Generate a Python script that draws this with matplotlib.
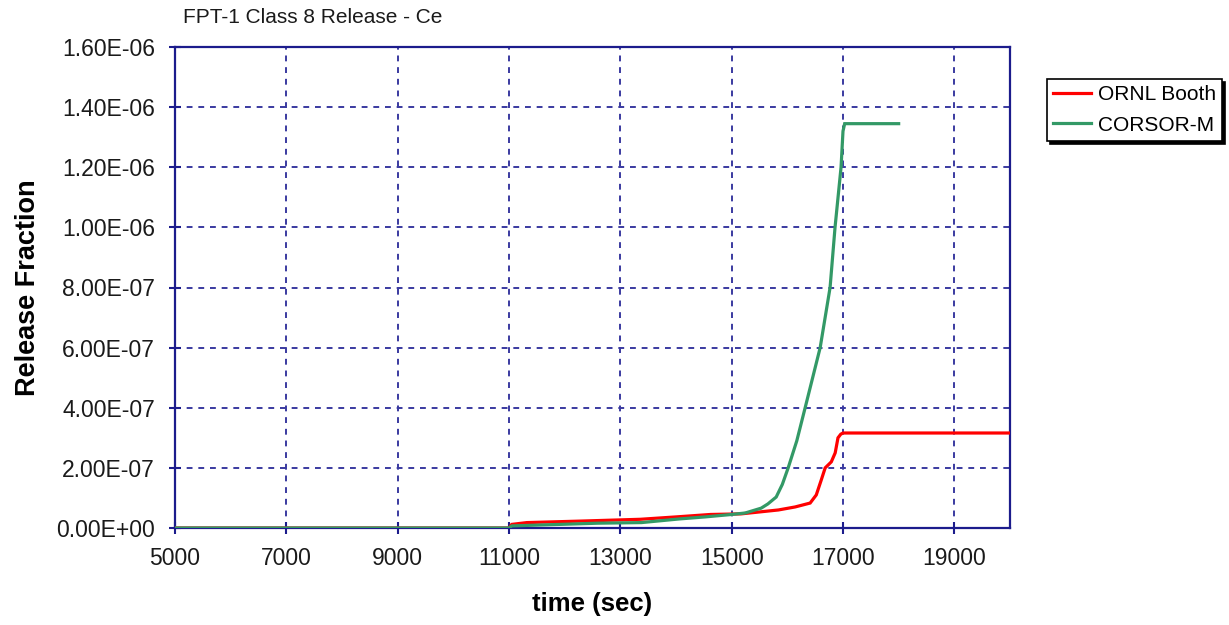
import matplotlib
matplotlib.use("Agg")
import matplotlib.pyplot as plt
from matplotlib.ticker import FuncFormatter, MultipleLocator

# Release history, time in seconds
ornl_time = [5000, 11000, 11050, 11320, 12290, 13360, 14010, 14620, 15170,
             15840, 16140, 16410, 16520, 16610, 16680, 16790, 16860, 16910,
             16960, 17000, 20000]
ornl_frac = [0, 0, 1.2e-8, 1.8e-8, 2.3e-8, 2.9e-8, 3.7e-8, 4.5e-8, 4.7e-8,
             6.0e-8, 7.0e-8, 8.3e-8, 1.1e-7, 1.6e-7, 2.0e-7, 2.2e-7, 2.5e-7,
             3.0e-7, 3.12e-7, 3.16e-7, 3.16e-7]

corsor_time = [5000, 11000, 11050, 12600, 13380, 14050, 14530, 15000, 15245,
               15530, 15650, 15800, 15910, 16015, 16170, 16320, 16590, 16768,
               16857, 16965, 17000, 17030, 18000]
corsor_frac = [0, 0, 0.7e-8, 1.6e-8, 1.8e-8, 3.0e-8, 3.7e-8, 4.5e-8, 5.0e-8,
               6.6e-8, 8.0e-8, 1.03e-7, 1.45e-7, 2.0e-7, 2.9e-7, 4.0e-7,
               6.0e-7, 8.0e-7, 1.0e-6, 1.2e-6, 1.32e-6, 1.345e-6, 1.345e-6]

x_ticks = [5000, 7000, 9000, 11000, 13000, 15000, 17000, 19000]

NAVY = "#1c1c8c"
GRID = "#3a3aa0"

plt.rcParams["font.family"] = ["Liberation Sans", "DejaVu Sans"]

fig = plt.figure(figsize=(12.29, 6.25), dpi=100)
ax = fig.add_axes([0.1424, 0.1552, 0.6794, 0.7696])

ax.plot(ornl_time, ornl_frac, color="#ff0000", lw=2.3, label="ORNL Booth",
        solid_joinstyle="miter", zorder=3)
ax.plot(corsor_time, corsor_frac, color="#339966", lw=2.3, label="CORSOR-M",
        solid_joinstyle="miter", zorder=3)

ax.set_xlim(5000, 20000)
ax.set_ylim(0, 1.6e-6)
ax.set_xticks(x_ticks)
ax.yaxis.set_major_locator(MultipleLocator(2e-7))
ax.yaxis.set_major_formatter(FuncFormatter(lambda v, p: "%.2E" % v))

ax.grid(True, color=GRID, lw=1.4, ls=(0, (3, 3)))
for s in ax.spines.values():
    s.set_color(NAVY)
    s.set_linewidth(1.6)

ax.tick_params(direction="inout", length=9, width=1.5, color=NAVY,
               labelsize=16.5, labelcolor="#1a1a1a")
ax.tick_params(axis="x", pad=9)
ax.tick_params(axis="y", pad=10)

ax.set_title("FPT-1 Class 8 Release - Ce", fontsize=15, color="#1a1a1a",
             loc="left", x=0.01, pad=17)
ax.set_xlabel("time (sec)", fontsize=18.5, fontweight="bold", labelpad=16)
ax.set_ylabel("Release Fraction", fontsize=19.5, fontweight="bold", labelpad=11)

leg = ax.legend(loc="upper left", bbox_to_anchor=(1.0443, 0.9335), fontsize=15,
                frameon=True, fancybox=False, edgecolor="black",
                shadow={"color": "black", "alpha": 1.0},
                handlelength=1.8, handletextpad=0.35, borderpad=0.3,
                labelspacing=0.55, borderaxespad=0)
leg.get_frame().set_linewidth(1.2)

fig.savefig("out.png", dpi=100)
